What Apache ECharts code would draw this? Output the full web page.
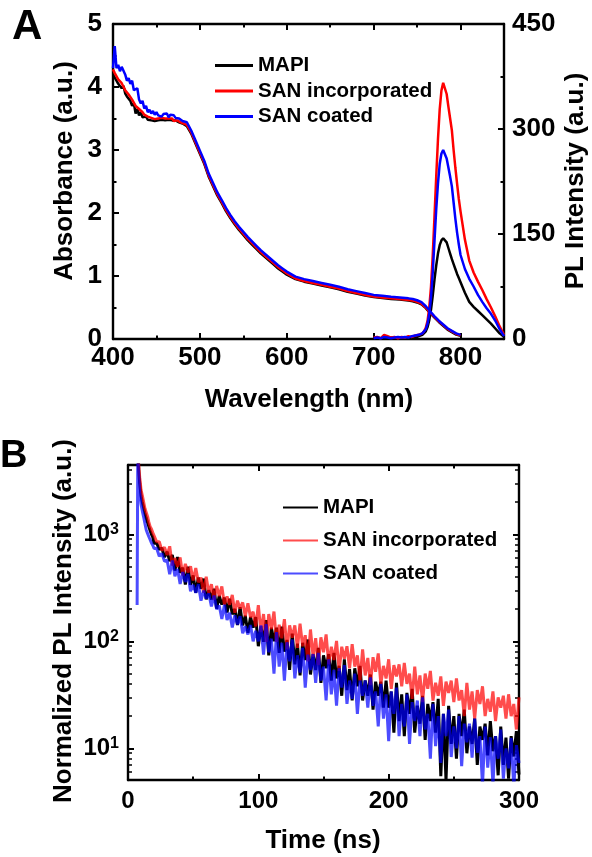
<!DOCTYPE html>
<html>
<head>
<meta charset="utf-8">
<script src="https://cdn.jsdelivr.net/npm/echarts@6/dist/echarts.min.js"></script>
<style>
html,body{margin:0;padding:0;background:#fff;}
#chart{width:592px;height:857px;}
</style>
</head>
<body>
<div id="chart"></div>
<script>
// ---------- Panel A : absorbance ----------
const absWl = [400,402,404,406,408,410,412,414,416,418,420,422,424,426,428,430,432,434,436,438,440,442,444,446,448,450,452,454,456,458,460,462,464,466,468,470,472,474,476,478,480,
485,490,495,500,505,510,515,520,525,530,535,540,545,550,555,560,565,570,575,580,585,590,595,600,
610,620,630,640,650,660,670,680,690,700,710,720,730,740,
745,750,755,760,765,770,775,780,785,790,795,800];
const absMAPI = [4.2,4.15,4.1,4.05,4.08,3.98,4.02,3.9,3.85,3.82,3.78,3.7,3.74,3.58,3.65,3.55,3.6,3.52,3.5,3.53,3.48,3.5,3.47,3.49,3.46,3.48,3.47,3.45,3.48,3.46,3.47,3.45,3.48,3.46,3.47,3.44,3.47,3.45,3.44,3.43,3.42,
3.38,3.26,3.1,2.94,2.78,2.58,2.43,2.28,2.16,2.03,1.92,1.82,1.73,1.65,1.57,1.5,1.43,1.36,1.3,1.24,1.18,1.12,1.07,1.02,
0.95,0.91,0.88,0.85,0.82,0.79,0.75,0.72,0.69,0.665,0.65,0.635,0.625,0.61,
0.6,0.58,0.55,0.49,0.41,0.34,0.27,0.21,0.15,0.11,0.07,0.05];
const absSANinc = [4.28,4.22,4.2,4.12,4.14,4.06,4.04,3.95,3.97,3.88,3.86,3.8,3.78,3.7,3.72,3.65,3.62,3.6,3.56,3.57,3.53,3.55,3.51,3.53,3.49,3.52,3.5,3.47,3.51,3.49,3.5,3.47,3.5,3.48,3.5,3.46,3.49,3.47,3.46,3.44,3.43,
3.4,3.28,3.12,2.96,2.8,2.6,2.45,2.3,2.18,2.05,1.94,1.84,1.75,1.67,1.59,1.52,1.45,1.38,1.32,1.26,1.2,1.14,1.09,1.04,
0.96,0.92,0.89,0.86,0.83,0.8,0.76,0.73,0.7,0.675,0.66,0.645,0.635,0.62,
0.61,0.59,0.56,0.5,0.42,0.35,0.28,0.22,0.16,0.12,0.08,0.06];
const absSANcoat = [4.3,4.65,4.3,4.35,4.25,4.32,4.3,4.2,4.1,4.14,4.05,4.1,3.95,3.98,3.98,3.8,3.74,3.78,3.66,3.7,3.6,3.64,3.58,3.62,3.56,3.6,3.55,3.58,3.53,3.57,3.54,3.58,3.52,3.56,3.53,3.55,3.51,3.54,3.5,3.48,3.46,
3.44,3.31,3.15,2.99,2.83,2.63,2.48,2.33,2.21,2.08,1.97,1.87,1.78,1.7,1.62,1.55,1.48,1.41,1.35,1.29,1.23,1.17,1.12,1.07,
0.99,0.95,0.92,0.89,0.86,0.83,0.79,0.76,0.73,0.7,0.685,0.67,0.66,0.645,
0.635,0.615,0.585,0.52,0.44,0.36,0.29,0.23,0.17,0.13,0.09,0.065];

// ---------- Panel A : PL spectra ----------
const plWl = [700,704,708,712,716,720,724,728,732,736,740,744,748,752,756,
758,760,762,764,766,768,770,772,774,776,778,780,782,784,786,788,790,792,794,796,798,800,
805,810,815,820,825,830,835,840,845,850];
const plMAPI = [1,2,1,2,1,2,1,2,2,1,2,3,3,4,6,
8,11,17,27,42,62,85,105,122,134,141,144,143,138,130,122,114,107,100,93,87,81,
66,53,46,40,34,28,22,15,8,3];
const plSANinc = [2,3,1,6,4,2,3,1,3,2,4,3,5,6,8,
11,16,26,45,75,120,175,232,285,328,355,366,364,350,332,315,298,270,245,222,200,182,
142,112,95,82,70,57,45,32,18,6];
const plSANcoat = [1,2,1,3,2,1,2,3,2,3,2,4,5,6,8,
10,14,22,36,60,95,140,185,222,250,265,270,268,258,245,232,218,195,172,152,135,120,
100,86,75,63,53,44,36,26,14,4];

// ---------- Panel B : TRPL decay ----------
const trplTime = [7,7.5,8,8.5,9,9.5,10,11,12,13,14,15,16,17,18,19,
20,22,24,26,28,30,32,34,36,38,40,42,44,46,48,50,52,54,56,58,
60,62,64,66,68,70,72,74,76,78,80,82,84,86,88,90,92,94,96,98,
100,102,104,106,108,110,112,114,116,118,120,122,124,126,128,130,132,134,136,138,
140,142,144,146,148,150,152,154,156,158,160,162,164,166,168,170,172,174,176,178,
180,182,184,186,188,190,192,194,196,198,200,202,204,206,208,210,212,214,216,218,
220,222,224,226,228,230,232,234,236,238,240,242,244,246,248,250,252,254,256,258,
260,262,264,266,268,270,272,274,276,278,280,282,284,286,288,290,292,294,296,298,300];
const trplMAPI = [9000,6500,4600,3600,3000,2650,2300,2000,1780,1580,1420,1290,1180,1080,1000,940,
824,829,722,745,612,688,562,642,458,615,438,488,340,498,337,413,284,394,310,386,
247,301,246,310,202,266,221,256,186,250,179,201,142,208,141,174,120,169,134,168,
90,138,99,158,74,134,100,134,78,137,80,103,54,118,61,95,48,97,67,104,
49,76,54,87,41,74,56,76,43,78,45,59,31,68,35,55,28,56,38,59,
28,43,31,49,23,42,31,42,24,43,24,34,14,41,18,32,13,33,21,36,
14,25,17,31,12,26,18,27,14,29,5.5,21,5,25,11,20,8,21,13,23,
9,16,11,19,7,16,12,17,8.6,18,9.4,13,5.6,16,7,12.6,5.2,13,8.4,14.5,5.7];
const trplSANinc = [9000,7000,5000,4000,3400,3000,2600,2300,2000,1740,1600,1470,1300,1180,1120,1040,
1051,853,854,707,759,639,773,511,600,496,609,412,529,442,502,370,485,357,394,285,
401,282,342,244,329,265,326,221,263,220,271,185,240,203,231,172,227,168,189,138,
218,122,180,99,180,130,190,99,143,107,161,84,141,108,141,87,146,90,114,65,
129,72,107,60,109,79,116,61,89,67,101,53,89,69,90,56,94,58,74,43,
84,48,70,39,71,52,77,40,59,45,68,36,60,47,61,38,63,40,50,29,
58,32,48,27,50,36,53,28,41,31,47,25,42,33,43,27,45,28,35,20,
41,23,34,19,35,26,38,20,29,22,34,18,30,24,31,19,32,20,26,15,30];
const trplSANcoat = [219,6000,4000,3000,2450,2150,1900,1650,1450,1260,1100,1020,950,890,830,790,
738,741,623,662,560,574,424,568,406,474,344,443,359,426,294,337,284,342,240,298,
251,280,212,268,200,216,162,220,158,185,135,175,144,172,119,138,116,142,100,125,
100,141,75,145,79,106,50,122,58,97,43,98,65,104,45,74,51,87,37,75,
54,76,41,78,43,58,28,68,32,54,25,56,37,60,26,43,29,50,21,43,
31,43,24,46,25,34,16,40,19,32,11.7,34,21,37,13,26,16,32,11,27,
18,28,13,30,15,21,8,26,10.5,20,7.3,21,13,23,8.3,16,10,20,6.8,17,
11.4,17,8.2,19,9.1,13,4.5,16,6.6,12.7,4.6,13,8,15,5.2,10,6.5,12.5,4.3,10.7,7.3];

// ---------- labels / ticks ----------
const seriesNames = ['MAPI', 'SAN incorporated', 'SAN coated'];
const logExp = {10: '1', 100: '2', 1000: '3'};

const FONT = "'Liberation Sans', Arial, sans-serif";
const BLACK = '#000';

function pairs(xs, ys) { return xs.map((x, i) => [x, ys[i]]); }

const lbl = (size, extra) => Object.assign({color: BLACK, fontFamily: FONT, fontWeight: 'bold', fontSize: size}, extra || {});
const axLine = {show: true, onZero: false, lineStyle: {color: BLACK, width: 2.4}};
const tickMaj = {show: true, inside: true, length: 6, lineStyle: {color: BLACK, width: 2}};
const tickMin = (n) => ({show: true, splitNumber: n, length: 3.5, lineStyle: {color: BLACK, width: 2}});

function valAxis(o) {
  return Object.assign({
    type: 'value', axisLine: axLine, axisTick: tickMaj, splitLine: {show: false},
    minorSplitLine: {show: false}
  }, o);
}

const chart = echarts.init(document.getElementById('chart'), null, {renderer: 'canvas'});

const option = {
  animation: false,
  backgroundColor: '#fff',
  grid: [
    {left: 113, top: 24, width: 391, height: 315, outerBoundsMode: 'none'},
    {left: 128, top: 465, width: 391, height: 315, outerBoundsMode: 'none'}
  ],
  xAxis: [
    valAxis({gridIndex: 0, position: 'bottom', min: 400, max: 850, interval: 100,
      minorTick: tickMin(2), axisLabel: lbl(26, {margin: 6, showMaxLabel: false})}),
    valAxis({gridIndex: 0, position: 'top', min: 400, max: 850, interval: 100,
      minorTick: tickMin(2), axisLabel: {show: false}}),
    valAxis({gridIndex: 1, position: 'bottom', min: 0, max: 300, interval: 100,
      minorTick: tickMin(2), axisLabel: lbl(24, {margin: 9})}),
    valAxis({gridIndex: 1, position: 'top', min: 0, max: 300, interval: 100,
      minorTick: tickMin(2), axisLabel: {show: false}})
  ],
  yAxis: [
    valAxis({gridIndex: 0, position: 'left', min: 0, max: 5, interval: 1,
      minorTick: tickMin(2), axisLabel: lbl(26, {margin: 11})}),
    valAxis({gridIndex: 0, position: 'right', min: 0, max: 450, interval: 150,
      minorTick: tickMin(2), axisLabel: lbl(26, {margin: 8})}),
    {gridIndex: 1, type: 'log', position: 'left', min: 5.06, max: 4446,
      axisLine: axLine, axisTick: tickMaj, splitLine: {show: false}, minorSplitLine: {show: false},
      minorTick: {show: true, splitNumber: 9, length: 4, lineStyle: {color: BLACK, width: 1.5}},
      axisLabel: {showMinLabel: false, showMaxLabel: false, margin: 9,
        formatter: v => '{b|10}{s|' + (logExp[Math.round(v)] || Math.round(Math.log10(v))) + '}',
        rich: {b: lbl(24), s: lbl(16, {padding: [0, 0, 10, 0]})}}},
    {gridIndex: 1, type: 'log', position: 'right', min: 5.06, max: 4446,
      axisLine: axLine, axisTick: tickMaj, splitLine: {show: false}, minorSplitLine: {show: false},
      minorTick: {show: true, splitNumber: 9, length: 4, lineStyle: {color: BLACK, width: 1.5}},
      axisLabel: {show: false}}
  ],
  legend: [
    {left: 210, top: 50, orient: 'vertical', icon: 'rect', itemWidth: 38, itemHeight: 3, itemGap: 4.5,
      selectedMode: false, textStyle: lbl(20.5), data: seriesNames.map((n, i) => ({name: n, itemStyle: {color: ['#000', '#ff0000', '#0000ff'][i]}}))},
    {left: 278, top: 492, orient: 'vertical', icon: 'rect', itemWidth: 35, itemHeight: 2, itemGap: 12,
      selectedMode: false, textStyle: lbl(20.5), data: seriesNames.map((n, i) => ({name: n, itemStyle: {color: ['#000', 'rgba(255,0,0,0.7)', 'rgba(0,0,255,0.7)'][i]}}))}
  ],
  graphic: [
    {type: 'text', x: 12, y: 27, style: {text: 'A', fontSize: 42, fontWeight: 'bold', fontFamily: FONT, fill: BLACK, align: 'left', verticalAlign: 'middle'}},
    {type: 'text', x: 0, y: 457, style: {text: 'B', fontSize: 38, fontWeight: 'bold', fontFamily: FONT, fill: BLACK, align: 'left', verticalAlign: 'middle'}},
    {type: 'text', x: 309, y: 400, style: {text: 'Wavelength (nm)', fontSize: 26, fontWeight: 'bold', fontFamily: FONT, fill: BLACK, align: 'center', verticalAlign: 'middle'}},
    {type: 'text', x: 65, y: 171, rotation: Math.PI / 2, style: {text: 'Absorbance (a.u.)', fontSize: 26, fontWeight: 'bold', fontFamily: FONT, fill: BLACK, align: 'center', verticalAlign: 'middle'}},
    {type: 'text', x: 576, y: 181, rotation: Math.PI / 2, style: {text: 'PL Intensity (a.u.)', fontSize: 26, fontWeight: 'bold', fontFamily: FONT, fill: BLACK, align: 'center', verticalAlign: 'middle'}},
    {type: 'text', x: 64, y: 621, rotation: Math.PI / 2, style: {text: 'Normalized PL Intensity (a.u.)', fontSize: 26, fontWeight: 'bold', fontFamily: FONT, fill: BLACK, align: 'center', verticalAlign: 'middle'}},
    {type: 'text', x: 323, y: 841, style: {text: 'Time (ns)', fontSize: 26, fontWeight: 'bold', fontFamily: FONT, fill: BLACK, align: 'center', verticalAlign: 'middle'}}
  ],
  series: []
};

const lineBase = (name, xi, yi, data, color, w, z) => ({
  type: 'line', name, xAxisIndex: xi, yAxisIndex: yi, data, color,
  showSymbol: false, symbol: 'none', clip: true, silent: true, z,
  lineStyle: {width: w, color}, emphasis: {disabled: true}
});

const colA = ['#000000', '#ff0000', '#0000ff'];
const colB = ['#000000', 'rgba(255,0,0,0.7)', 'rgba(0,0,255,0.7)'];
const absSets = [absMAPI, absSANinc, absSANcoat];
const plSets = [plMAPI, plSANinc, plSANcoat];
const trSets = [trplMAPI, trplSANinc, trplSANcoat];

for (let i = 0; i < 3; i++) option.series.push(lineBase(seriesNames[i], 0, 0, pairs(absWl, absSets[i]), colA[i], 2.5, 2 + i));
for (let i = 0; i < 3; i++) option.series.push(lineBase(seriesNames[i], 0, 1, pairs(plWl, plSets[i]), colA[i], 2.5, 2 + i));
for (let i = 0; i < 3; i++) option.series.push(lineBase(seriesNames[i], 2, 2, pairs(trplTime, trSets[i]), colB[i], 3, 2 + i));

chart.setOption(option);
</script>
</body>
</html>
